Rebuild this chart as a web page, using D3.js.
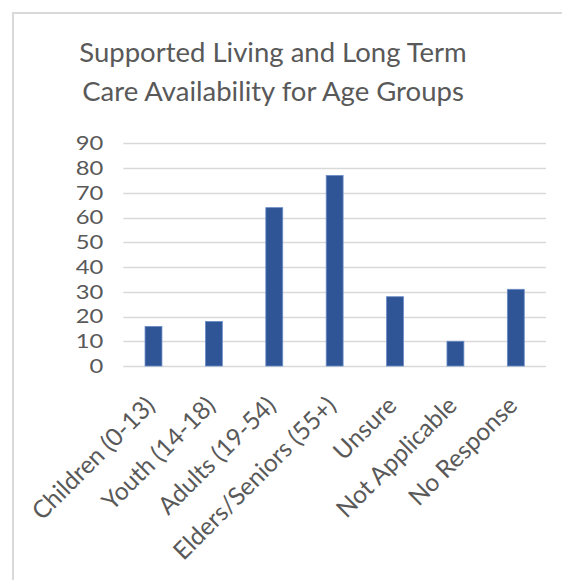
<!DOCTYPE html>
<html>
<head>
<meta charset="utf-8">
<script src="https://cdn.jsdelivr.net/npm/d3@7"></script>
<style>
  html, body { margin: 0; padding: 0; background: #fff; }
  svg { display: block; }
</style>
</head>
<body>
<script>
// Survey responses by age group
const categories = ["Children (0-13)", "Youth (14-18)", "Adults (19-54)", "Elders/Seniors (55+)", "Unsure", "Not Applicable", "No Response"];
const counts = [16, 18, 64, 77, 28, 10, 31];
const yTicks = [0, 10, 20, 30, 40, 50, 60, 70, 80, 90];
const titleLines = ["Supported Living and Long Term", "Care Availability for Age Groups"];

const W = 562, H = 580;
const font = "Lato, 'Open Sans', sans-serif";
const textColor = "#595959";

const svg = d3.select("body").append("svg")
  .attr("width", W).attr("height", H);

// chart frame (runs off the right and bottom edges)
svg.append("rect")
  .attr("x", 13).attr("y", 13)
  .attr("width", 700).attr("height", 700)
  .attr("fill", "none")
  .attr("stroke", "#d9d9d9")
  .attr("stroke-width", 2);

// title
svg.append("g").selectAll("text")
  .data(titleLines)
  .join("text")
  .attr("x", 273)
  .attr("y", (d, i) => 62 + i * 39)
  .attr("text-anchor", "middle")
  .attr("font-family", font)
  .attr("font-size", 27.5)
  .attr("fill", textColor)
  .text(d => d);

const x = d3.scaleBand()
  .domain(categories)
  .range([123.3, 546])
  .paddingInner(0.72)
  .paddingOuter(0.36);

const y = d3.scaleLinear()
  .domain([0, 90])
  .range([366, 143.3]);

// horizontal gridlines
svg.append("g")
  .selectAll("line")
  .data(yTicks)
  .join("line")
  .attr("x1", 123.3).attr("x2", 546)
  .attr("y1", d => Math.round(y(d)) + 0.5)
  .attr("y2", d => Math.round(y(d)) + 0.5)
  .attr("stroke", "#d9d9d9")
  .attr("stroke-width", 1.5);

// y axis labels: slightly widened digits
const yStretch = 1.22;
const yAxis = svg.append("g")
  .attr("transform", "translate(123.3,0)")
  .call(d3.axisLeft(y).tickValues(yTicks).tickSize(0).tickPadding(20));
yAxis.select(".domain").remove();
yAxis.selectAll("text")
  .attr("font-family", font)
  .attr("font-size", 19.5)
  .attr("fill", textColor)
  .attr("x", -20 / yStretch)
  .attr("transform", `scale(${yStretch},1)`);

// bars
svg.append("g")
  .selectAll("rect")
  .data(categories.map((c, i) => ({ c, v: counts[i] })))
  .join("rect")
  .attr("x", d => x(d.c))
  .attr("y", d => y(d.v))
  .attr("width", x.bandwidth())
  .attr("height", d => y(0) - y(d.v))
  .attr("fill", "#2f5597")
  .attr("stroke", "#6a8cc7")
  .attr("stroke-width", 0.8);

// x axis labels, rotated
const xAxis = svg.append("g")
  .attr("transform", `translate(0,${y(0)})`)
  .call(d3.axisBottom(x).tickSize(0).tickPadding(0));
xAxis.select(".domain").remove();
xAxis.selectAll("text")
  .attr("font-family", font)
  .attr("font-size", 24.5)
  .attr("fill", textColor)
  .attr("text-anchor", "end")
  .attr("dy", null)
  .attr("y", 0)
  .attr("transform", "translate(3,41) rotate(-45)");
</script>
</body>
</html>
